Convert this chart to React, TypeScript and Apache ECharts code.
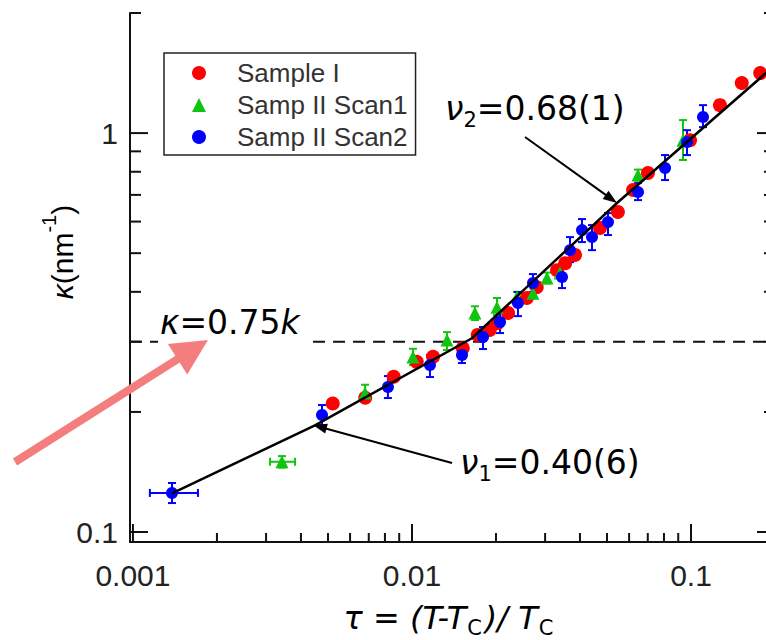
import React, { useEffect, useRef } from 'react';
import * as echarts from 'echarts';

// ---- data (τ, κ) ----
const sampleITau = [0.0052, 0.0068, 0.0086, 0.0104, 0.0119, 0.0152, 0.0172, 0.019, 0.0203, 0.0221, 0.0258, 0.028, 0.0331, 0.0354, 0.0384, 0.0472, 0.0547, 0.062, 0.0701, 0.0992, 0.127, 0.152, 0.177];
const sampleIKappa = [0.21, 0.217, 0.245, 0.267, 0.275, 0.289, 0.312, 0.321, 0.334, 0.354, 0.386, 0.411, 0.453, 0.472, 0.495, 0.578, 0.634, 0.72, 0.794, 0.96, 1.175, 1.335, 1.414];

const scan1Tau = [0.00342, 0.00679, 0.01008, 0.01335, 0.01681, 0.02017, 0.02378, 0.02715, 0.03047, 0.03393, 0.06457, 0.09361];
const scan1Kappa = [0.15, 0.223, 0.2746, 0.303, 0.354, 0.366, 0.388, 0.397, 0.433, 0.446, 0.785, 0.96];
const scan1KLo = [0.145, 0.212, 0.262, 0.286, 0.34, 0.35, 0.375, 0.385, 0.42, 0.433, 0.76, 0.856];
const scan1KHi = [0.155, 0.234, 0.288, 0.317, 0.368, 0.386, 0.4, 0.41, 0.447, 0.46, 0.81, 1.078];
const scan1TauLo = [0.0031];
const scan1TauHi = [0.00381];

const scan2Tau = [0.00138, 0.00476, 0.0082, 0.0116, 0.01511, 0.01797, 0.02068, 0.02398, 0.02715, 0.03449, 0.03684, 0.04068, 0.04418, 0.0504, 0.06457, 0.08071, 0.09676, 0.1104];
const scan2Kappa = [0.1253, 0.1965, 0.2309, 0.2621, 0.2777, 0.3081, 0.336, 0.375, 0.4208, 0.4356, 0.5088, 0.5713, 0.5486, 0.5982, 0.7113, 0.8172, 0.9494, 1.097];
const scan2KLo = [0.1182, 0.1854, 0.2167, 0.2446, 0.2652, 0.2875, 0.3153, 0.3477, 0.3995, 0.4088, 0.475, 0.5331, 0.5088, 0.5551, 0.6792, 0.7626, 0.8809, 1.035];
const scan2KHi = [0.1327, 0.2081, 0.246, 0.2777, 0.2909, 0.3264, 0.3538, 0.3995, 0.4431, 0.4614, 0.5486, 0.6088, 0.588, 0.6302, 0.7492, 0.8809, 1.017, 1.175];
const scan2TauLo = [0.00115];
const scan2TauHi = [0.00171];

// crossover fit line
const fitTau = [0.00138, 0.00449, 0.0164, 0.0543, 0.2];
const fitKappa = [0.125, 0.185, 0.306, 0.668, 1.48];

// κ = 0.75k reference level (dashed), with a gap for the label
const refKappa = 0.3;
const refTau = [0.000976, 0.00123, 0.00442, 0.2];

// axis ticks
const xMajorTicks = [0.001, 0.01, 0.1];
const xMinorTicks = [0.002, 0.003, 0.004, 0.005, 0.006, 0.007, 0.008, 0.009, 0.02, 0.03, 0.04, 0.05, 0.06, 0.07, 0.08, 0.09];
const yMajorTicks = [0.1, 1];
const yMinorTicks = [0.2, 0.3, 0.4, 0.5, 0.6, 0.7, 0.8, 0.9, 2];

const X_MIN = 0.000976, X_MAX = 0.2, Y_MIN = 0.0944, Y_MAX = 2;

const RED = '#ff0000', GREEN = '#11c411', BLUE = '#0000ff';
const SANS = 'Liberation Sans, Arial, sans-serif';
const ANN = 'DejaVu Sans, sans-serif';

const powLabel = (v: number) => {
  const l = Math.log10(v);
  if (Math.abs(l - Math.round(l)) < 1e-6) return String(Math.pow(10, Math.round(l)));
  return '';
};

function errBarSeries(name: string, color: string, data: number[][], horizontal: boolean) {
  return {
    type: 'custom', name: name + '_err', silent: true, z: 2,
    encode: { x: 0, y: 1 },
    data,
    renderItem: (params: any, api: any) => {
      const x = api.value(0), y = api.value(1), lo = api.value(2), hi = api.value(3);
      const cap = 4;
      if (!horizontal) {
        const p1 = api.coord([x, lo]), p2 = api.coord([x, hi]);
        return { type: 'group', children: [
          { type: 'line', shape: { x1: p1[0], y1: p1[1], x2: p2[0], y2: p2[1] }, style: { stroke: color, lineWidth: 2 } },
          { type: 'line', shape: { x1: p1[0] - cap, y1: p1[1], x2: p1[0] + cap, y2: p1[1] }, style: { stroke: color, lineWidth: 2 } },
          { type: 'line', shape: { x1: p2[0] - cap, y1: p2[1], x2: p2[0] + cap, y2: p2[1] }, style: { stroke: color, lineWidth: 2 } },
        ] };
      }
      const p1 = api.coord([lo, y]), p2 = api.coord([hi, y]);
      return { type: 'group', children: [
        { type: 'line', shape: { x1: p1[0], y1: p1[1], x2: p2[0], y2: p2[1] }, style: { stroke: color, lineWidth: 2 } },
        { type: 'line', shape: { x1: p1[0], y1: p1[1] - cap, x2: p1[0], y2: p1[1] + cap }, style: { stroke: color, lineWidth: 2 } },
        { type: 'line', shape: { x1: p2[0], y1: p2[1] - cap, x2: p2[0], y2: p2[1] + cap }, style: { stroke: color, lineWidth: 2 } },
      ] };
    },
  };
}

function tickSeries(values: number[], axis: 'x' | 'y', len: number) {
  return {
    type: 'custom', silent: true, z: 1,
    encode: { x: 0, y: 1 },
    data: values.map((v) => (axis === 'x' ? [v, 1] : [0.01, v])),
    renderItem: (params: any, api: any) => {
      const cs = params.coordSys;
      const p = api.coord([api.value(0), api.value(1)]);
      const st = { stroke: '#111', lineWidth: 2 };
      if (axis === 'x') {
        const b = cs.y + cs.height;
        return { type: 'line', shape: { x1: p[0], y1: b, x2: p[0], y2: b - len }, style: st };
      }
      const l = cs.x, r = cs.x + cs.width;
      return { type: 'group', children: [
        { type: 'line', shape: { x1: l, y1: p[1], x2: l + len, y2: p[1] }, style: st },
        { type: 'line', shape: { x1: r, y1: p[1], x2: r - len, y2: p[1] }, style: st },
      ] };
    },
  };
}

function arrow(x1: number, y1: number, x2: number, y2: number, color: string, lw: number, hl: number, hw: number) {
  const dx = x2 - x1, dy = y2 - y1, L = Math.hypot(dx, dy);
  const ux = dx / L, uy = dy / L, nx = -uy, ny = ux;
  const bx = x2 - ux * hl, by = y2 - uy * hl;
  return [
    { type: 'line', z: 100, shape: { x1, y1, x2: bx + ux, y2: by + uy }, style: { stroke: color, lineWidth: lw } },
    { type: 'polygon', z: 100, shape: { points: [[x2, y2], [bx + nx * hw, by + ny * hw], [bx - nx * hw, by - ny * hw]] }, style: { fill: color } },
  ];
}

export default function App() {
  const ref = useRef<HTMLDivElement>(null);
  useEffect(() => {
    if (!ref.current) return;
    const chart = echarts.init(ref.current, null, { renderer: 'svg' });
    const annRich = {
      i: { fontFamily: ANN, fontSize: 33, fontStyle: 'italic', color: '#484848' },
      n: { fontFamily: ANN, fontSize: 33, color: '#484848' },
      s: { fontFamily: ANN, fontSize: 21, color: '#484848', verticalAlign: 'bottom', lineHeight: 44 },
    };
    chart.setOption({
      animation: false,
      backgroundColor: '#fff',
      grid: { left: 130, width: 645, top: 13, bottom: 98, outerBoundsMode: 'none', containLabel: false },
      xAxis: {
        type: 'log', logBase: 10, min: X_MIN, max: X_MAX,
        axisLine: { lineStyle: { color: '#111', width: 2 } },
        axisTick: { show: false }, minorTick: { show: false }, splitLine: { show: false },
        axisLabel: { formatter: powLabel, fontFamily: SANS, fontSize: 30, color: '#222', margin: 18, showMinLabel: false, showMaxLabel: false },
      },
      yAxis: {
        type: 'log', logBase: 10, min: Y_MIN, max: Y_MAX,
        axisLine: { lineStyle: { color: '#111', width: 2 } },
        axisTick: { show: false }, minorTick: { show: false }, splitLine: { show: false },
        axisLabel: { formatter: powLabel, fontFamily: SANS, fontSize: 30, color: '#222', margin: 12, showMinLabel: false, showMaxLabel: false },
      },
      legend: {
        orient: 'vertical', left: 164, top: 53,
        padding: [7, 8, 5, 28], itemGap: 6, itemWidth: 14, itemHeight: 14,
        borderColor: '#222', borderWidth: 1.5, backgroundColor: '#fff',
        textStyle: { fontFamily: SANS, fontSize: 26, color: '#333', lineHeight: 26, padding: [0, 0, 0, 26] },
        data: [
          { name: 'Sample I', icon: 'circle' },
          { name: 'Samp II Scan1', icon: 'triangle' },
          { name: 'Samp II Scan2', icon: 'circle' },
        ],
      },
      series: [
        tickSeries(xMajorTicks, 'x', 18),
        tickSeries(xMinorTicks, 'x', 9),
        tickSeries(yMajorTicks, 'y', 18),
        tickSeries(yMinorTicks, 'y', 11),
        {
          type: 'line', silent: true, z: 1, symbol: 'none',
          data: [[refTau[0], refKappa], [refTau[1], refKappa], '-', [refTau[2], refKappa], [refTau[3], refKappa]],
          lineStyle: { color: '#111', width: 2, type: [12, 8] },
        },
        errBarSeries('s1', GREEN, scan1Tau.map((t, i) => [t, scan1Kappa[i], scan1KLo[i], scan1KHi[i]]), false),
        errBarSeries('s1h', GREEN, scan1TauLo.map((t, i) => [scan1Tau[i], scan1Kappa[i], t, scan1TauHi[i]]), true),
        errBarSeries('s2', BLUE, scan2Tau.map((t, i) => [t, scan2Kappa[i], scan2KLo[i], scan2KHi[i]]), false),
        errBarSeries('s2h', BLUE, scan2TauLo.map((t, i) => [scan2Tau[i], scan2Kappa[i], t, scan2TauHi[i]]), true),
        {
          name: 'Sample I', type: 'scatter', symbol: 'circle', symbolSize: 14, z: 3,
          itemStyle: { color: RED, opacity: 1 },
          data: sampleITau.map((t, i) => [t, sampleIKappa[i]]),
        },
        {
          name: 'Samp II Scan1', type: 'scatter', symbol: 'triangle', symbolSize: 13, z: 3,
          itemStyle: { color: GREEN, opacity: 1 },
          data: scan1Tau.map((t, i) => [t, scan1Kappa[i]]),
        },
        {
          name: 'Samp II Scan2', type: 'scatter', symbol: 'circle', symbolSize: 12, z: 3,
          itemStyle: { color: BLUE, opacity: 1 },
          data: scan2Tau.map((t, i) => [t, scan2Kappa[i]]),
        },
        {
          type: 'line', silent: true, z: 4, symbol: 'none',
          data: fitTau.map((t, i) => [t, fitKappa[i]]),
          lineStyle: { color: '#000', width: 2.5 },
        },
      ],
      graphic: [
        {
          type: 'text', x: 62, y: 252, rotation: Math.PI / 2, z: 100,
          style: {
            text: '{i|κ}{n|(nm}{s|-1}{n|)}', align: 'center', verticalAlign: 'middle',
            rich: {
              i: { fontFamily: SANS, fontSize: 30, fontStyle: 'italic', color: '#222' },
              n: { fontFamily: SANS, fontSize: 30, color: '#222' },
              s: { fontFamily: SANS, fontSize: 20, color: '#222', verticalAlign: 'top', lineHeight: 46 },
            },
          },
        },
        {
          type: 'text', x: 450, y: 618, z: 100,
          style: {
            text: '{i|τ = (T-T}{s|C}{i|)/ T}{s|C}', align: 'center', verticalAlign: 'middle',
            rich: {
              i: { fontFamily: ANN, fontSize: 32, fontStyle: 'italic', color: '#222' },
              s: { fontFamily: ANN, fontSize: 21, color: '#222', verticalAlign: 'bottom', lineHeight: 40, padding: [0, 3, 0, 1] },
            },
          },
        },
        {
          type: 'text', x: 160, y: 322, z: 100,
          style: { text: '{i|κ}{n|=0.75}{i|k}', verticalAlign: 'middle', rich: annRich },
        },
        {
          type: 'text', x: 445, y: 108, z: 100,
          style: { text: '{i|ν}{s|2}{n|=0.68(1)}', verticalAlign: 'middle', rich: annRich },
        },
        {
          type: 'text', x: 460, y: 462, z: 100,
          style: { text: '{i|ν}{s|1}{n|=0.40(6)}', verticalAlign: 'middle', rich: annRich },
        },
        ...arrow(525, 137, 617, 203, '#000', 2, 14, 5),
        ...arrow(452, 463, 313, 425, '#000', 2, 14, 5),
        ...arrow(15, 462, 208, 340, '#f47d7d', 8, 36, 18),
      ],
    });
    return () => chart.dispose();
  }, []);
  return <div ref={ref} style={{ position: 'absolute', left: 0, top: 0, width: 766, height: 640 }} />;
}
